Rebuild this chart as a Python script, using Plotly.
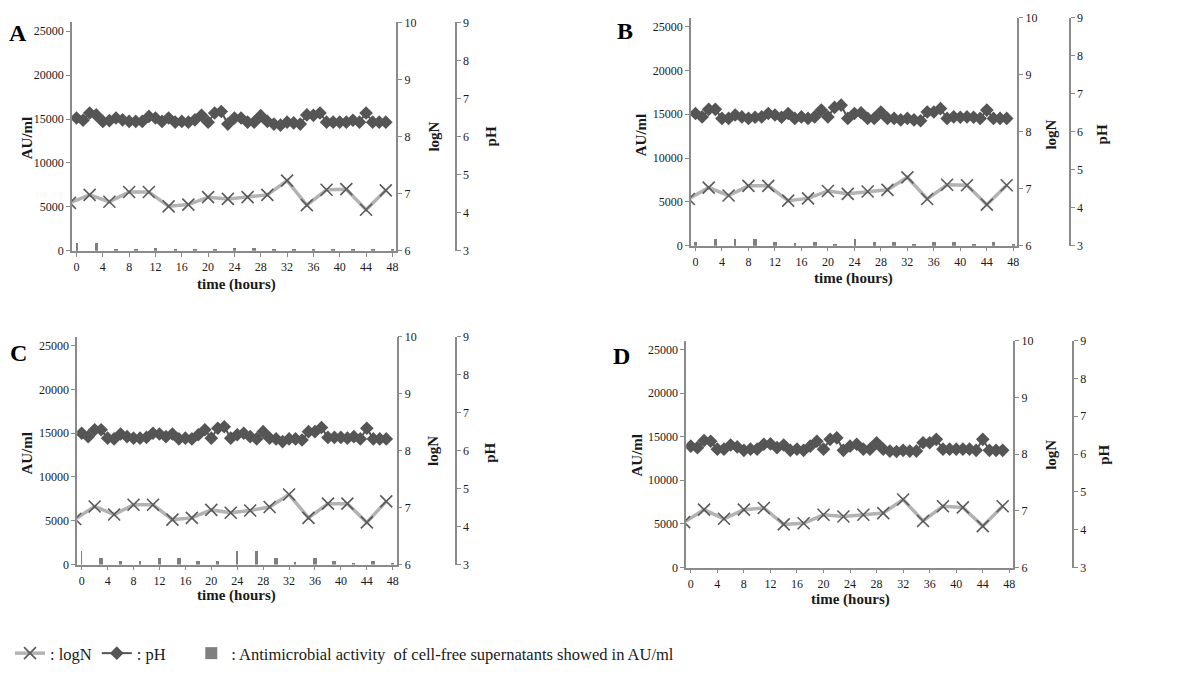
import plotly.graph_objects as go

W, H = 1189, 680

# ---------------- data ----------------
hours_pH = list(range(0, 48))
hours_logN = list(range(-1, 48, 3))
hours_bar = list(range(0, 49, 3))
x_ticks = list(range(0, 49, 4))

pH_A = [6.49, 6.43, 6.62, 6.57, 6.40, 6.42, 6.49, 6.44, 6.40, 6.40, 6.40, 6.53,
        6.49, 6.40, 6.49, 6.38, 6.40, 6.38, 6.44, 6.56, 6.38, 6.62, 6.66, 6.33,
        6.49, 6.49, 6.38, 6.38, 6.55, 6.40, 6.33, 6.30, 6.38, 6.36, 6.33, 6.57,
        6.56, 6.62, 6.38, 6.38, 6.38, 6.38, 6.43, 6.38, 6.62, 6.38, 6.38, 6.38]
pH_B = [6.48, 6.39, 6.59, 6.59, 6.35, 6.35, 6.44, 6.39, 6.35, 6.38, 6.39, 6.48,
        6.44, 6.38, 6.48, 6.35, 6.39, 6.35, 6.39, 6.57, 6.39, 6.64, 6.70, 6.35,
        6.48, 6.50, 6.35, 6.35, 6.52, 6.35, 6.35, 6.31, 6.35, 6.31, 6.29, 6.52,
        6.52, 6.61, 6.35, 6.39, 6.38, 6.39, 6.38, 6.35, 6.57, 6.35, 6.35, 6.35]
pH_C = [6.46, 6.37, 6.55, 6.55, 6.33, 6.31, 6.44, 6.37, 6.33, 6.33, 6.35, 6.46,
        6.44, 6.37, 6.44, 6.31, 6.33, 6.31, 6.42, 6.55, 6.33, 6.59, 6.63, 6.33,
        6.42, 6.46, 6.37, 6.31, 6.50, 6.33, 6.31, 6.24, 6.31, 6.31, 6.28, 6.50,
        6.50, 6.61, 6.35, 6.35, 6.35, 6.33, 6.37, 6.31, 6.59, 6.31, 6.31, 6.31]
pH_D = [6.21, 6.17, 6.36, 6.34, 6.13, 6.13, 6.24, 6.19, 6.10, 6.13, 6.13, 6.26,
        6.27, 6.17, 6.24, 6.10, 6.13, 6.10, 6.21, 6.34, 6.13, 6.39, 6.43, 6.10,
        6.21, 6.26, 6.13, 6.13, 6.30, 6.13, 6.08, 6.07, 6.10, 6.08, 6.08, 6.30,
        6.30, 6.39, 6.13, 6.13, 6.13, 6.13, 6.13, 6.10, 6.39, 6.10, 6.10, 6.10]

logN_A = [6.84, 6.98, 6.86, 7.03, 7.03, 6.78, 6.81, 6.94, 6.91, 6.94, 6.98,
          7.23, 6.80, 7.07, 7.08, 6.72, 7.06]
logN_B = [6.82, 7.02, 6.88, 7.05, 7.05, 6.79, 6.83, 6.96, 6.91, 6.95, 6.98,
          7.20, 6.82, 7.07, 7.06, 6.72, 7.06]
logN_C = [6.80, 7.02, 6.88, 7.05, 7.05, 6.79, 6.82, 6.96, 6.91, 6.95, 7.01,
          7.23, 6.82, 7.07, 7.07, 6.74, 7.11]
logN_D = [6.80, 7.02, 6.86, 7.02, 7.05, 6.76, 6.78, 6.93, 6.90, 6.93, 6.96,
          7.20, 6.82, 7.08, 7.06, 6.73, 7.08]

# antimicrobial activity (AU/ml), every 3 h; "thin" = hairline bars in the original
AU_A = [0, 900, 100, 60, 260, 130, 60, 130, 260, 260, 60, 100, 100, 60, 60, 100, 60]
AU_A_thin = [900, 0, 0, 0, 0, 0, 0, 0, 0, 0, 0, 0, 0, 0, 0, 0, 0]
AU_B = [450, 800, 0, 800, 450, 0, 400, 200, 0, 450, 450, 150, 450, 450, 200, 450, 200]
AU_B_thin = [0, 0, 800, 0, 0, 300, 0, 0, 800, 0, 0, 0, 0, 0, 0, 0, 0]
AU_C = [0, 800, 450, 0, 800, 800, 450, 450, 0, 1600, 800, 0, 800, 450, 150, 450, 150]
AU_C_thin = [1600, 0, 0, 400, 0, 0, 0, 0, 1600, 0, 0, 300, 0, 0, 0, 0, 0]
AU_D = [0] * 17
AU_D_thin = [0] * 17

panel_labels = ["A", "B", "C", "D"]
AU_ticks = [0, 5000, 10000, 15000, 20000, 25000]
logN_ticks = [6, 7, 8, 9, 10]
pH_ticks = [3, 4, 5, 6, 7, 8, 9]

# ---------------- layout geometry (pixels) ----------------
panels = [
    dict(l=72, r=397, t=15.7, b=249, ph=456.7, au_t=(27, 133), ln_t=(435, 132), ph_t=(492, 132),
         time=(237, 283), lab=(18, 27)),
    dict(l=692, r=1019, t=11, b=243.7, ph=1071.7, au_t=(642, 130), ln_t=(1053, 130), ph_t=(1104, 130),
         time=(855, 277), lab=(626, 25)),
    dict(l=77.3, r=397.3, t=336.7, b=569.3, ph=456.7, au_t=(27, 455), ln_t=(433, 453), ph_t=(490, 455),
         time=(237, 601), lab=(19, 353)),
    dict(l=687.3, r=1015, t=340.7, b=572.3, ph=1075, au_t=(638, 457), ln_t=(1052, 457), ph_t=(1105, 457),
         time=(852, 605), lab=(623, 356)),
]
data = [
    (pH_A, logN_A, AU_A, AU_A_thin),
    (pH_B, logN_B, AU_B, AU_B_thin),
    (pH_C, logN_C, AU_C, AU_C_thin),
    (pH_D, logN_D, AU_D, AU_D_thin),
]

FONT = "Liberation Serif, Times New Roman, serif"
AX = "#8a8a8a"
TXT = "#1a1a1a"
NB = "\u00a0"


def px(x):
    return x / W


def py(y):
    return 1 - y / H


fig = go.Figure()
layout = {}
annotations = []

for i, (p, (ph, ln, au, au_thin)) in enumerate(zip(panels, data)):
    xn = "x" if i == 0 else f"x{i + 1}"
    xa = "xaxis" if i == 0 else f"xaxis{i + 1}"
    k1, k2, k3 = 3 * i + 1, 3 * i + 2, 3 * i + 3
    yn1 = "y" if k1 == 1 else f"y{k1}"
    yn2, yn3 = f"y{k2}", f"y{k3}"
    ya1 = "yaxis" if k1 == 1 else f"yaxis{k1}"
    ya2, ya3 = f"yaxis{k2}", f"yaxis{k3}"
    first = i == 0

    fig.add_trace(go.Bar(x=hours_bar, y=au, width=0.55, marker=dict(color="#7f7f7f", line=dict(width=0)),
                         xaxis=xn, yaxis=yn1,
                         name=": Antimicrobial activity" + NB * 2 + "of cell-free supernatants showed in AU/ml",
                         showlegend=first, legendrank=3))
    fig.add_trace(go.Bar(x=hours_bar, y=au_thin, width=0.14, marker=dict(color="#7f7f7f", line=dict(width=0)),
                         xaxis=xn, yaxis=yn1, showlegend=False))
    fig.add_trace(go.Scatter(x=hours_logN, y=ln, mode="lines+markers", xaxis=xn, yaxis=yn2,
                             line=dict(color="#b3b3b3", width=3.5),
                             marker=dict(symbol="x-thin", size=12, color="#5a5a5a",
                                         line=dict(color="#5a5a5a", width=1.6)),
                             name=": logN", showlegend=first, legendrank=1))
    fig.add_trace(go.Scatter(x=hours_pH, y=ph, mode="lines+markers", xaxis=xn, yaxis=yn3,
                             line=dict(color="#555555", width=2),
                             marker=dict(symbol="diamond", size=10.5, color="#555555"),
                             name=": pH" + NB * 5, showlegend=first, legendrank=2))

    common_tick = dict(tickfont=dict(family=FONT, size=12, color=TXT), showgrid=False, zeroline=False,
                       showline=True, linecolor=AX, linewidth=1.5, ticks="outside", tickcolor=AX,
                       ticklen=4, tickwidth=1.2)
    layout[xa] = dict(domain=[px(p["l"]), px(p["r"])], anchor=yn1, range=[-0.7, 48.6],
                      tickvals=x_ticks, **common_tick)
    layout[ya1] = dict(domain=[py(p["b"]), py(p["t"])], anchor=xn, range=[0, 26000],
                       tickvals=AU_ticks, tickformat="d", **common_tick)
    layout[ya2] = dict(overlaying=yn1, side="right", anchor=xn, range=[6, 10],
                       tickvals=logN_ticks, **common_tick)
    layout[ya3] = dict(overlaying=yn1, side="right", anchor="free", position=px(p["ph"]),
                       range=[3, 9], tickvals=pH_ticks, **common_tick)

    tfont = dict(family=FONT, size=15, color=TXT)
    for txt, (ax_, ay_), ang in [("<b>AU/ml</b>", p["au_t"], -90), ("<b>logN</b>", p["ln_t"], -90),
                                  ("<b>pH</b>", p["ph_t"], -90), ("<b>time (hours)</b>", p["time"], 0)]:
        annotations.append(dict(text=txt, x=px(ax_), y=py(ay_), xref="paper", yref="paper",
                                showarrow=False, textangle=ang, font=tfont,
                                xanchor="center", yanchor="middle"))
    annotations.append(dict(text=f"<b>{panel_labels[i]}</b>", x=px(p["lab"][0]), y=py(p["lab"][1]),
                            xref="paper", yref="paper", showarrow=False,
                            font=dict(family=FONT, size=24, color="#000"),
                            xanchor="center", yanchor="middle"))

fig.update_layout(**layout)
fig.update_layout(
    width=W, height=H, margin=dict(l=0, r=0, t=0, b=0),
    paper_bgcolor="white", plot_bgcolor="white",
    barmode="overlay", bargap=0,
    annotations=annotations,
    showlegend=True,
    legend=dict(orientation="h", x=px(10), y=py(660), xanchor="left", yanchor="middle",
                font=dict(family=FONT, size=16.5, color=TXT), itemwidth=30,
                traceorder="normal", bgcolor="rgba(0,0,0,0)"),
    font=dict(family=FONT),
)

fig.write_html("out.html")
